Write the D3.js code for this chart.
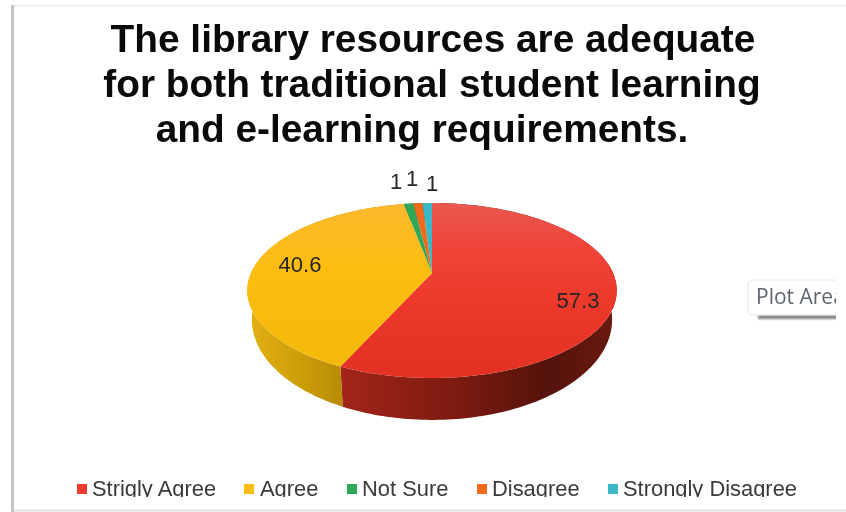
<!DOCTYPE html>
<html><head><meta charset="utf-8">
<script src="https://cdn.jsdelivr.net/npm/d3@7"></script>
<style>
html,body{margin:0;padding:0;background:#fff;overflow:hidden}
svg{display:block;filter:blur(0.5px)}
text{font-family:"Liberation Sans",Arial,sans-serif}
</style></head><body>
<svg id="c" width="846" height="512"></svg>
<script>
const categories = ["Strigly Agree","Agree","Not Sure","Disagree","Strongly Disagree"];
const values = [57.3,40.6,1,1,1];
const valueLabels = ["57.3","40.6","1","1","1"];
const colors = ["#ee3b2e","#fdbd0e","#2fa85a","#f26a1c","#3bb8c8"];
const titleLines = ["The library resources are adequate","for both traditional student learning","and e-learning requirements."];

// layout
const cx=432, cy=273, A=84, B=181, k=0.2;
const lowX=0.975, lowY=1.144, lowCy=299.8;
const titleX=[433,432,422], titleY=[52,97,142];
const labelPos=[[578,302],[300,266],[396,183],[412,180],[432,185]];
const legendSwatchX=[77,244,347,477,608], legendTextX=[92,260,362,492,623];

const svg=d3.select("#c");
const defs=svg.append("defs");
function grad(id,stops,x1,y1,x2,y2){
  const g=defs.append("linearGradient").attr("id",id).attr("gradientUnits","userSpaceOnUse")
    .attr("x1",x1).attr("y1",y1).attr("x2",x2).attr("y2",y2);
  stops.forEach(s=>g.append("stop").attr("offset",s[0]).attr("stop-color",s[1]));
}
grad("top0",[[0,"#e8584f"],[0.25,"#f0443a"],[0.6,"#ec382a"],[1,"#e23022"]],0,203,0,378);
grad("top1",[[0,"#fbb92e"],[0.4,"#fdbd0e"],[1,"#f2b808"]],0,203,0,378);
grad("wall0",[[0,"#a32419"],[0.4,"#7e1b11"],[0.75,"#54130b"],[1,"#6b1a10"]],342,0,617,0);
grad("wall1",[[0,"#e2b012"],[0.5,"#cf9f0a"],[1,"#b68a06"]],250,0,344,0);
const sf=defs.append("filter").attr("id","soft").attr("x","-10%").attr("y","-100%").attr("width","120%").attr("height","300%");
sf.append("feGaussianBlur").attr("stdDeviation",1);

// frame
const frame=svg.append("g");
frame.append("rect").attr("x",11).attr("y",5).attr("width",3).attr("height",507).attr("fill","#c4c4c4");
frame.append("rect").attr("x",14).attr("y",5).attr("width",832).attr("height",1.5).attr("fill","#ececec");
frame.append("rect").attr("x",14).attr("y",509.5).attr("width",832).attr("height",2).attr("fill","#e2e2e2");

// title
svg.append("g").selectAll("text").data(titleLines).join("text")
  .attr("x",(d,i)=>titleX[i]).attr("y",(d,i)=>titleY[i])
  .attr("text-anchor","middle").attr("font-size",38.8).attr("font-weight","bold").attr("fill","#0a0a0a").text(d=>d);

// perspective projection of a unit disc onto the page
function project(r,a){
  const u=r*Math.sin(a), v=-r*Math.cos(a), w=1-k*v;
  return [cx+B*u/w, cy+A*v/w];
}
function lower(p){ return [cx+lowX*(p[0]-cx), lowCy+lowY*(p[1]-cy)]; }
const pie=d3.pie().sort(null).value(d=>d);
const arcs=pie(values);
const line=d3.line();
function rim(a0,a1){
  const n=Math.max(2,Math.ceil((a1-a0)/0.02));
  return d3.range(n+1).map(i=>project(1,a0+(a1-a0)*i/n));
}
// walls
svg.append("g").selectAll("path").data(arcs).join("path")
  .attr("d",d=>{
    const t=rim(d.startAngle,d.endAngle);
    const b=t.slice().reverse().map(lower);
    return line(t.concat(b))+"Z";
  })
  .attr("fill",(d,i)=>i<2?`url(#wall${i})`:d3.color(colors[i]).darker(1.2));
// faces
svg.append("g").selectAll("path").data(arcs).join("path")
  .attr("d",d=>line([project(0,0)].concat(rim(d.startAngle,d.endAngle)))+"Z")
  .attr("fill",(d,i)=>i<2?`url(#top${i})`:colors[i]);

// data labels
svg.append("g").selectAll("text").data(valueLabels).join("text")
  .attr("x",(d,i)=>labelPos[i][0]).attr("y",(d,i)=>labelPos[i][1])
  .attr("text-anchor","middle").attr("dominant-baseline","middle")
  .attr("font-size",22).attr("fill","#262626").text(d=>d);

// legend, cropped at the bottom as in the picture
defs.append("clipPath").attr("id","legclip").append("rect").attr("x",0).attr("y",470).attr("width",846).attr("height",27);
const leg=svg.append("g").attr("clip-path","url(#legclip)");
leg.selectAll("rect").data(categories).join("rect")
  .attr("x",(d,i)=>legendSwatchX[i]).attr("y",484).attr("width",10).attr("height",10)
  .attr("fill",(d,i)=>colors[i]);
leg.selectAll("text").data(categories).join("text")
  .attr("x",(d,i)=>legendTextX[i]).attr("y",496)
  .attr("font-size",21.9).attr("fill","#3a3a3a").text(d=>d);

// tooltip
defs.append("clipPath").attr("id","tipclip").append("rect").attr("x",740).attr("y",270).attr("width",96).attr("height",60);
const tip=svg.append("g").attr("clip-path","url(#tipclip)");
tip.append("rect").attr("x",758).attr("y",315).attr("width",90).attr("height",4).attr("fill","#808080").attr("filter","url(#soft)");
tip.append("rect").attr("x",748).attr("y",280).attr("width",110).attr("height",35).attr("rx",4)
  .attr("fill","#fff").attr("stroke","#e6e6e6");
tip.append("text").attr("x",756).attr("y",304).attr("font-size",21).attr("fill","#5f6670")
  .style("font-family","'Open Sans',sans-serif").text("Plot Area");
</script>
</body></html>
